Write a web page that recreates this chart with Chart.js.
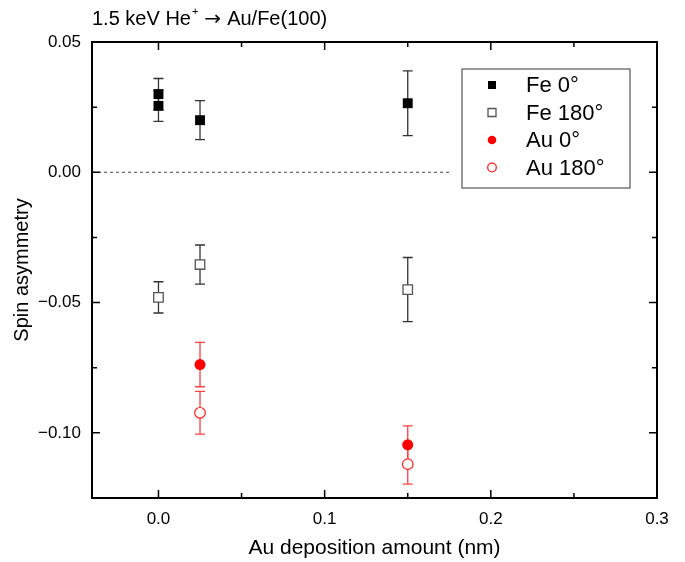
<!DOCTYPE html>
<html>
<head>
<meta charset="utf-8">
<script src="https://cdn.jsdelivr.net/npm/chart.js@4"></script>
<style>
  body { margin: 0; background: #fff; }
  canvas { display: block; }
</style>
</head>
<body>
<canvas id="grafico" width="685" height="562"></canvas>
<script>
// data
const xFe0 = [0, 0, 0.025, 0.15];
const fe0 = [0.030, 0.0255, 0.020, 0.0265];
const fe0Err = [0.006, 0.006, 0.0075, 0.0124];

const xFe180 = [0, 0.025, 0.15];
const fe180 = [-0.048, -0.0354, -0.045];
const fe180Err = [0.006, 0.0075, 0.0123];

const xAu = [0.025, 0.15];
const au0 = [-0.0738, -0.1046];
const au0Err = [0.0085, 0.0073];
const au180 = [-0.0923, -0.112];
const au180Err = [0.0082, 0.0077];

const zeroLineX = [-0.04, 0.175];

const xTicks = [0, 0.1, 0.2, 0.3];
const xMinor = [0.05, 0.15, 0.25];
const yTicks = [0.05, 0, -0.05, -0.10];
const yMinor = [0.025, -0.025, -0.075];

const FONT = "'Liberation Sans', Arial, sans-serif";

function pts(xs, ys, errs) {
    return xs.map((x, i) => ({ x: x, y: ys[i], err: errs ? errs[i] : 0 }));
}

const errorBars = {
    id: 'errorBars',
    beforeDatasetsDraw(chart) {
        const ctx = chart.ctx;
        const xs = chart.scales.x, ys = chart.scales.y;
        chart.data.datasets.forEach(ds => {
            if (!ds.errColor) return;
            ctx.save();
            ctx.strokeStyle = ds.errColor;
            ctx.lineWidth = 1.3;
            ds.data.forEach(p => {
                const px = xs.getPixelForValue(p.x);
                const top = ys.getPixelForValue(p.y + p.err);
                const bot = ys.getPixelForValue(p.y - p.err);
                ctx.beginPath();
                ctx.moveTo(px, top); ctx.lineTo(px, bot);
                ctx.moveTo(px - 5, top); ctx.lineTo(px + 5, top);
                ctx.moveTo(px - 5, bot); ctx.lineTo(px + 5, bot);
                ctx.stroke();
            });
            ctx.restore();
        });
    }
};

function marker(ctx, style, filled, color, x, y, s) {
    ctx.beginPath();
    if (style === 'rect') {
        ctx.rect(x - s, y - s, 2 * s, 2 * s);
    } else {
        ctx.arc(x, y, s, 0, Math.PI * 2);
    }
    if (filled) { ctx.fillStyle = color; ctx.fill(); }
    else { ctx.fillStyle = '#fff'; ctx.fill(); ctx.strokeStyle = color; ctx.lineWidth = 1.3; ctx.stroke(); }
}

const decor = {
    id: 'decor',
    afterDraw(chart) {
        const ctx = chart.ctx;
        const a = chart.chartArea;
        const xs = chart.scales.x, ys = chart.scales.y;
        ctx.save();
        // frame
        ctx.strokeStyle = '#000';
        ctx.lineWidth = 2;
        ctx.strokeRect(a.left, a.top, a.right - a.left, a.bottom - a.top);
        // inward ticks
        ctx.lineWidth = 1.5;
        ctx.beginPath();
        xTicks.concat(xMinor).forEach(v => {
            const len = xTicks.includes(v) ? 8 : 5;
            const px = xs.getPixelForValue(v);
            ctx.moveTo(px, a.bottom); ctx.lineTo(px, a.bottom - len);
            ctx.moveTo(px, a.top); ctx.lineTo(px, a.top + len);
        });
        yTicks.concat(yMinor).forEach(v => {
            const len = yTicks.includes(v) ? 8 : 5;
            const py = ys.getPixelForValue(v);
            ctx.moveTo(a.left, py); ctx.lineTo(a.left + len, py);
            ctx.moveTo(a.right, py); ctx.lineTo(a.right - len, py);
        });
        ctx.stroke();

        // title with superscript
        ctx.fillStyle = '#000';
        ctx.textBaseline = 'alphabetic';
        ctx.textAlign = 'left';
        ctx.font = '20px ' + FONT;
        let tx = 92;
        const ty = 25;
        ctx.fillText('1.5 keV He', tx, ty);
        tx += ctx.measureText('1.5 keV He').width;
        ctx.font = '11px ' + FONT;
        ctx.fillText('+', tx + 1, ty - 10);
        tx += ctx.measureText('+').width + 7;
        ctx.font = "20px 'DejaVu Sans', sans-serif";
        ctx.fillText('\u2192', tx, ty);
        tx += ctx.measureText('\u2192').width + 6;
        ctx.font = '20px ' + FONT;
        ctx.fillText('Au/Fe(100)', tx, ty);

        // axis titles
        ctx.font = '21px ' + FONT;
        ctx.textAlign = 'center';
        ctx.textBaseline = 'middle';
        ctx.fillText('Au deposition amount (nm)', (a.left + a.right) / 2, 548);
        ctx.font = '20px ' + FONT;
        ctx.save();
        ctx.translate(22, (a.top + a.bottom) / 2);
        ctx.rotate(-Math.PI / 2);
        ctx.fillText('Spin asymmetry', 0, 0);
        ctx.restore();

        // legend
        const lx = 462, ly = 69, lw = 168, lh = 119;
        ctx.fillStyle = '#fff';
        ctx.fillRect(lx, ly, lw, lh);
        ctx.strokeStyle = '#555';
        ctx.lineWidth = 1.2;
        ctx.strokeRect(lx, ly, lw, lh);
        const items = chart.data.datasets.filter(d => d.errColor);
        ctx.font = '22px ' + FONT;
        ctx.textAlign = 'left';
        ctx.textBaseline = 'middle';
        items.forEach((d, i) => {
            const y = 85 + i * 27.5;
            const filled = d.backgroundColor !== '#fff';
            marker(ctx, d.pointStyle, filled, d.borderColor, 492, y, d.pointStyle === 'rect' ? 4 : 4.3);
            ctx.fillStyle = '#000';
            ctx.fillText(d.label, 526, y + 1);
        });
        ctx.restore();
    }
};

function fmtY(v) {
    return (v < 0 ? '\u2212' : '') + Math.abs(v).toFixed(2);
}

new Chart(document.getElementById('grafico').getContext('2d'), {
    type: 'scatter',
    data: {
        datasets: [
            {
                label: 'zero',
                type: 'line',
                data: zeroLineX.map(x => ({ x: x, y: 0 })),
                borderColor: '#444',
                borderWidth: 1,
                borderDash: [3, 3],
                pointRadius: 0,
                fill: false
            },
            {
                label: 'Fe 0\u00b0',
                data: pts(xFe0, fe0, fe0Err),
                pointStyle: 'rect',
                pointRadius: 7,
                backgroundColor: '#000',
                borderColor: '#000',
                borderWidth: 0,
                errColor: '#333'
            },
            {
                label: 'Fe 180\u00b0',
                data: pts(xFe180, fe180, fe180Err),
                pointStyle: 'rect',
                pointRadius: 6.7,
                backgroundColor: '#fff',
                borderColor: '#555',
                borderWidth: 1.3,
                errColor: '#333'
            },
            {
                label: 'Au 0\u00b0',
                data: pts(xAu, au0, au0Err),
                pointStyle: 'circle',
                pointRadius: 5.5,
                backgroundColor: '#ff0000',
                borderColor: '#ff0000',
                borderWidth: 0,
                errColor: '#ff4040'
            },
            {
                label: 'Au 180\u00b0',
                data: pts(xAu, au180, au180Err),
                pointStyle: 'circle',
                pointRadius: 5.3,
                backgroundColor: '#fff',
                borderColor: '#ff2020',
                borderWidth: 1.2,
                errColor: '#ff4040'
            }
        ]
    },
    options: {
        responsive: false,
        animation: false,
        layout: { padding: { top: 42, right: 28, left: 0, bottom: 0 } },
        plugins: { legend: { display: false }, tooltip: { enabled: false } },
        scales: {
            x: {
                type: 'linear',
                min: -0.04,
                max: 0.3,
                grid: { display: false, drawTicks: false },
                border: { display: false },
                afterBuildTicks: s => { s.ticks = xTicks.map(v => ({ value: v })); },
                afterFit: s => { s.height = 64; },
                ticks: {
                    padding: 11,
                    color: '#000',
                    font: { family: FONT, size: 17 },
                    callback: v => v.toFixed(1)
                }
            },
            y: {
                type: 'linear',
                min: -0.125,
                max: 0.05,
                grid: { display: false, drawTicks: false },
                border: { display: false },
                afterBuildTicks: s => { s.ticks = yTicks.map(v => ({ value: v })); },
                afterFit: s => { s.width = 92; },
                ticks: {
                    padding: 11,
                    color: '#000',
                    font: { family: FONT, size: 17 },
                    callback: v => fmtY(v)
                }
            }
        }
    },
    plugins: [errorBars, decor]
});
</script>
</body>
</html>
